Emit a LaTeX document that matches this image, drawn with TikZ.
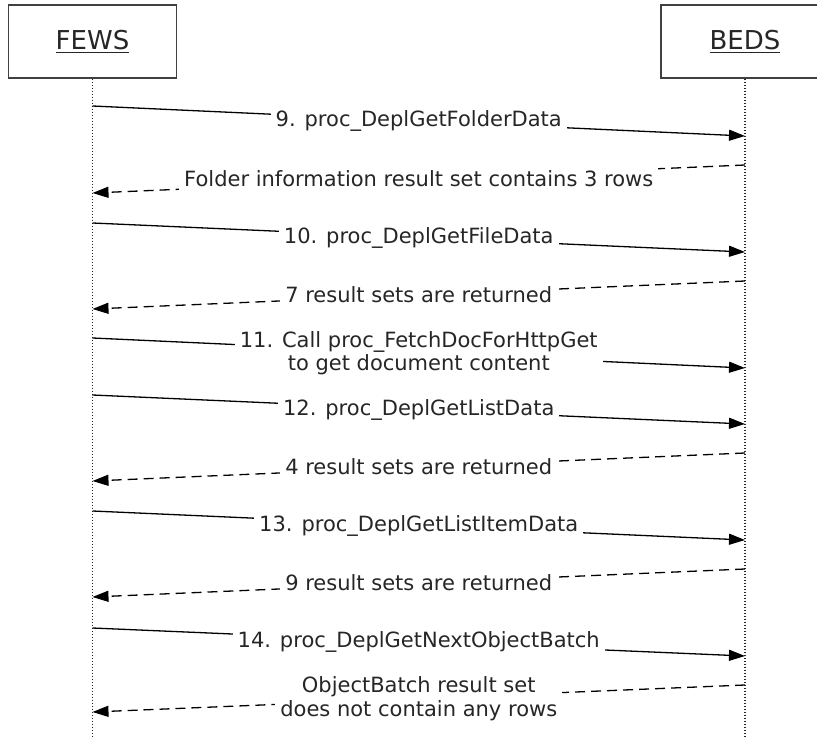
\documentclass[tikz,border=0pt]{standalone}
\usepackage{fontspec}
\setmainfont{DejaVu Sans}
\usetikzlibrary{positioning}
\usetikzlibrary{arrows.meta}
\tikzset{
	actor/.style={draw=black!75, line width=1.4pt, minimum width=168pt, minimum height=73pt, inner sep=0pt, text=black!85, font=\fontsize{26}{30}\selectfont},
	life/.style={draw=black!85, line width=1.2pt, dash pattern=on 1.5pt off 1.5pt},
	call/.style={draw=black, line width=1.3pt, -{Triangle[length=16pt,width=11pt]}},
	reply/.style={draw=black, line width=1.3pt, dash pattern=on 10pt off 6pt, -{Triangle[length=16pt,width=11pt]}},
	msg/.style={fill=white, inner sep=5pt, align=center, text=black!85, font=\fontsize{21}{23.5}\selectfont}
}

\begin{document}
\begin{tikzpicture}[x=1pt,y=-1pt]
	\useasboundingbox (0,0) rectangle (817,738);
	\clip (0,0) rectangle (817,738);

	% Lifelines
	\node (fews) [actor] at (92.5,41.5) {\underline{FEWS}};
	\node (beds) [actor] at (745,41.5) {\underline{BEDS}};
	\coordinate (fewsend) at (92.5,740);
	\coordinate (bedsend) at (745,740);
	\draw[life] (fews.south) -- (fewsend);
	\draw[life] (beds.south) -- (bedsend);

	% Message ends
	\coordinate (f1) at (92.5,106);  \coordinate (b1) at (745,136);
	\coordinate (b2) at (745,165);   \coordinate (f2) at (92.5,193);
	\coordinate (f3) at (92.5,223);  \coordinate (b3) at (745,252);
	\coordinate (b4) at (745,281);   \coordinate (f4) at (92.5,309);
	\coordinate (f5) at (92.5,338);  \coordinate (b5) at (745,368);
	\coordinate (f6) at (92.5,395);  \coordinate (b6) at (745,424);
	\coordinate (b7) at (745,453);   \coordinate (f7) at (92.5,481);
	\coordinate (f8) at (92.5,511);  \coordinate (b8) at (745,540);
	\coordinate (b9) at (745,569);   \coordinate (f9) at (92.5,597);
	\coordinate (f10) at (92.5,628); \coordinate (b10) at (745,656);
	\coordinate (b11) at (745,685);  \coordinate (f11) at (92.5,712);

	% Messages
	\path (f1) edge[call] node[msg] {9. proc\_DeplGetFolderData} (b1);
	\path (b2) edge[reply] node[msg] {Folder information result set contains 3 rows} (f2);
	\path (f3) edge[call] node[msg] {10. proc\_DeplGetFileData} (b3);
	\path (b4) edge[reply] node[msg] {7 result sets are returned} (f4);
	\path (f5) edge[call] node[msg] {11. Call proc\_FetchDocForHttpGet\\to get document content} (b5);
	\path (f6) edge[call] node[msg] {12. proc\_DeplGetListData} (b6);
	\path (b7) edge[reply] node[msg] {4 result sets are returned} (f7);
	\path (f8) edge[call] node[msg] {13. proc\_DeplGetListItemData} (b8);
	\path (b9) edge[reply] node[msg] {9 result sets are returned} (f9);
	\path (f10) edge[call] node[msg] {14. proc\_DeplGetNextObjectBatch} (b10);
	\path (b11) edge[reply] node[msg] {ObjectBatch result set\\does not contain any rows} (f11);
\end{tikzpicture}
\end{document}
